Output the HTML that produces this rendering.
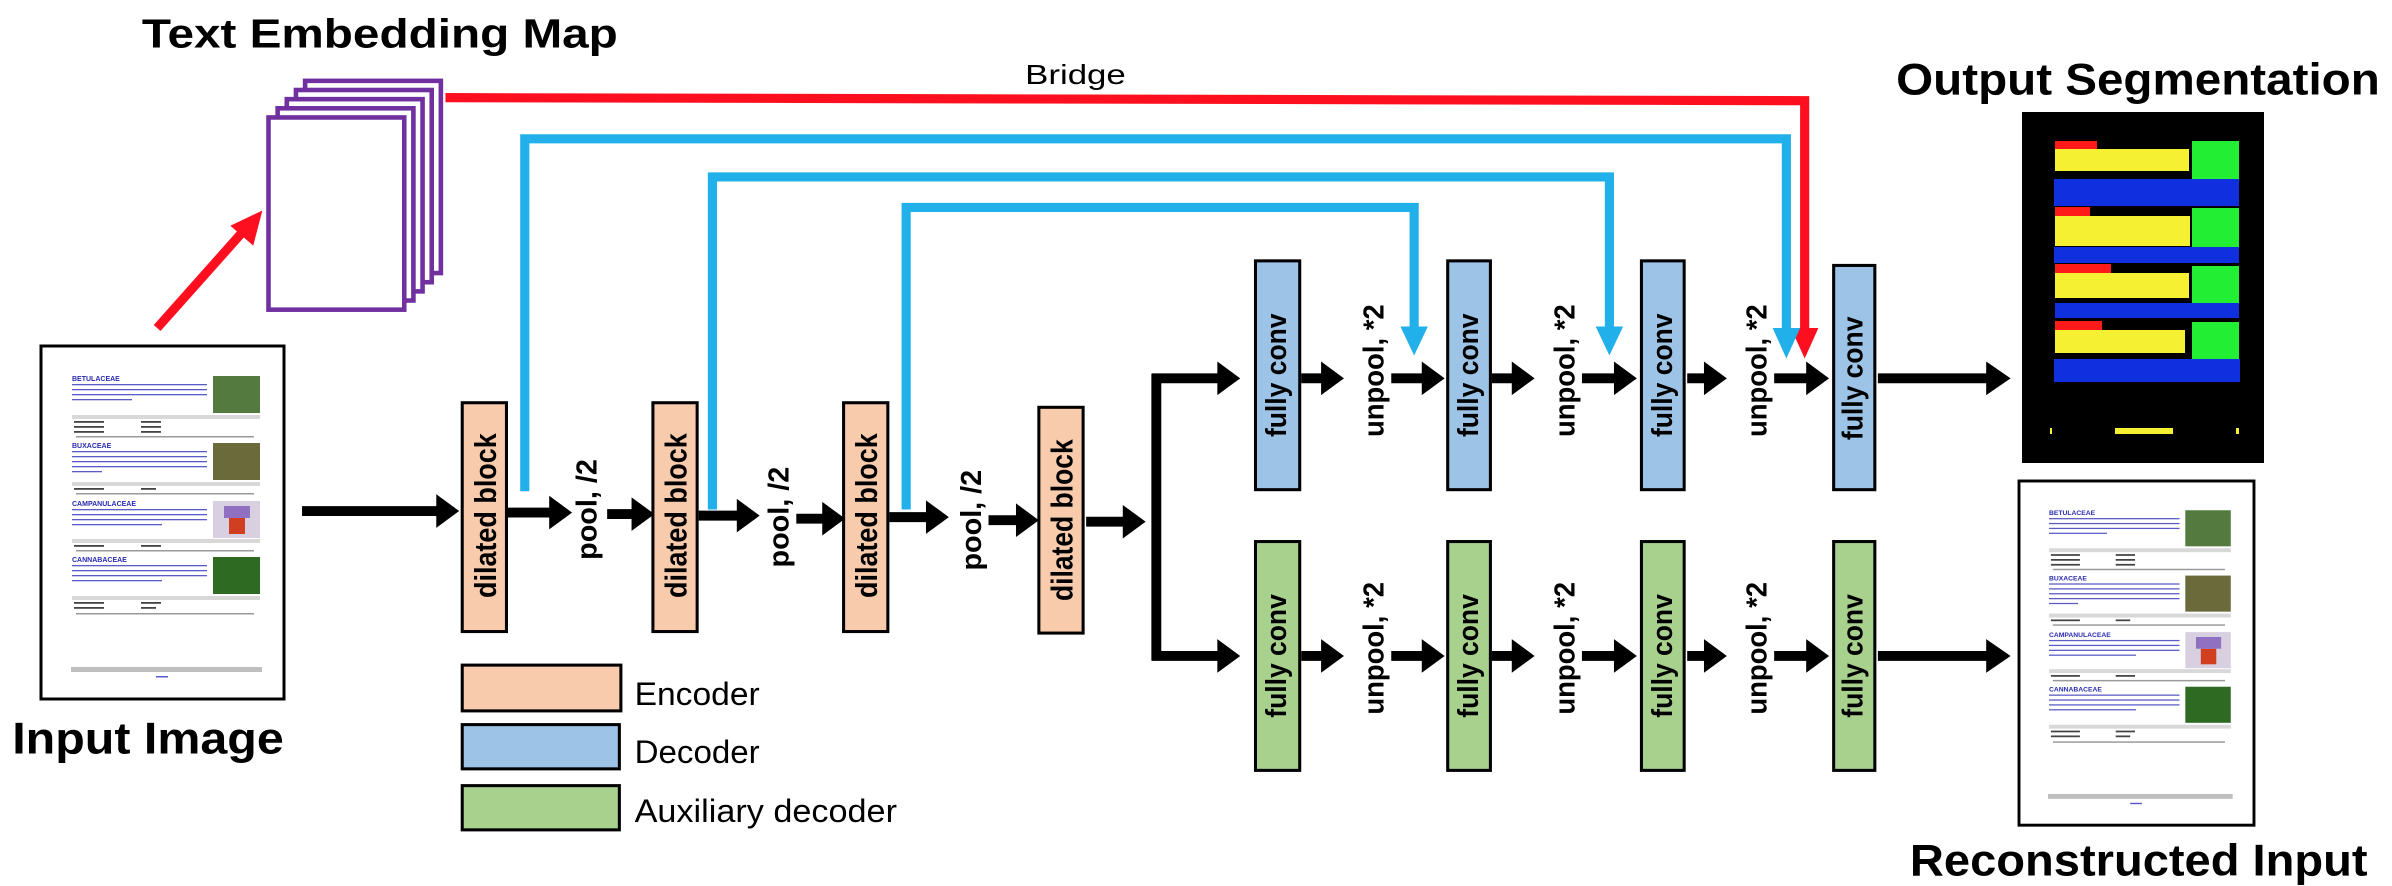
<!DOCTYPE html>
<html><head><meta charset="utf-8"><style>
html,body{margin:0;padding:0;background:#fff;}
svg{display:block;}
text{font-family:"Liberation Sans",sans-serif;}
</style></head><body>
<svg width="2392" height="886" viewBox="0 0 2392 886" xmlns="http://www.w3.org/2000/svg">
<g transform="scale(1.5255)">
  <text x="93" y="31" font-size="27" font-weight="bold" textLength="312" lengthAdjust="spacingAndGlyphs">Text Embedding Map</text>
  <text x="8" y="494" font-size="29" font-weight="bold" textLength="178" lengthAdjust="spacingAndGlyphs">Input Image</text>
  <text x="1243" y="62" font-size="29" font-weight="bold" textLength="317" lengthAdjust="spacingAndGlyphs">Output Segmentation</text>
  <text x="1252" y="574" font-size="29" font-weight="bold" textLength="300" lengthAdjust="spacingAndGlyphs">Reconstructed Input</text>
  <text x="672" y="55" font-size="18" textLength="66" lengthAdjust="spacingAndGlyphs">Bridge</text>

  <g fill="#fff" stroke="#7030a0" stroke-width="3">
    <rect x="200" y="53" width="89" height="126"/>
    <rect x="194" y="59" width="89" height="126"/>
    <rect x="188" y="65" width="89" height="126"/>
    <rect x="182" y="71" width="89" height="126"/>
    <rect x="176" y="77" width="89" height="126"/>
  </g>
  <line x1="103" y1="215" x2="160" y2="151" stroke="#fe0f1f" stroke-width="6"/>
  <polygon points="172,138 166,161 151,148" fill="#fe0f1f"/>

  <polyline points="292,64 1183,66 1183,216" fill="none" stroke="#fe0f1f" stroke-width="6"/>
  <polygon points="1174,215 1192,215 1183,235" fill="#fe0f1f"/>

  <g fill="none" stroke="#22b0ea" stroke-width="6">
    <polyline points="344,322 344,91 1171,91 1171,216"/>
    <polyline points="467,334 467,116 1055,116 1055,216"/>
    <polyline points="594,334 594,136 927,136 927,216"/>
  </g>
  <g fill="#22b0ea">
    <polygon points="1162,215 1180,215 1171,235"/>
    <polygon points="1046,214 1064,214 1055,233"/>
    <polygon points="918,214 936,214 927,233"/>
  </g>

  <g fill="#f8cbad" stroke="#000" stroke-width="2">
    <rect x="303" y="264" width="29" height="150"/>
    <rect x="428" y="264" width="29" height="150"/>
    <rect x="553" y="264" width="29" height="150"/>
    <rect x="681" y="267" width="29" height="148"/>
  </g>
  <g font-size="20" font-weight="bold" text-anchor="middle">
    <text transform="translate(318,338) rotate(-90)" dy="7" textLength="108" lengthAdjust="spacingAndGlyphs">dilated block</text>
    <text transform="translate(443,338) rotate(-90)" dy="7" textLength="108" lengthAdjust="spacingAndGlyphs">dilated block</text>
    <text transform="translate(568,338) rotate(-90)" dy="7" textLength="108" lengthAdjust="spacingAndGlyphs">dilated block</text>
    <text transform="translate(696,341) rotate(-90)" dy="7" textLength="106" lengthAdjust="spacingAndGlyphs">dilated block</text>
  </g>
  <g font-size="19" font-weight="bold" text-anchor="middle">
    <text transform="translate(384,334) rotate(-90)" dy="7" textLength="66" lengthAdjust="spacingAndGlyphs">pool, /2</text>
    <text transform="translate(510,339) rotate(-90)" dy="7" textLength="66" lengthAdjust="spacingAndGlyphs">pool, /2</text>
    <text transform="translate(636,341) rotate(-90)" dy="7" textLength="66" lengthAdjust="spacingAndGlyphs">pool, /2</text>
  </g>

  <g stroke="#000" stroke-width="6.5">
    <line x1="198" y1="335" x2="288" y2="335"/>
    <line x1="333" y1="336" x2="362" y2="336"/>
    <line x1="398" y1="337" x2="416" y2="337"/>
    <line x1="458" y1="338" x2="485" y2="338"/>
    <line x1="522" y1="340" x2="541" y2="340"/>
    <line x1="583" y1="339" x2="609" y2="339"/>
    <line x1="648" y1="341" x2="668" y2="341"/>
    <line x1="712" y1="342" x2="738" y2="342"/>
    <line x1="758" y1="245" x2="758" y2="433"/>
    <line x1="755" y1="248" x2="800" y2="248"/>
    <line x1="755" y1="430" x2="800" y2="430"/>
    <line x1="853" y1="248" x2="868" y2="248"/>
    <line x1="912" y1="248" x2="934" y2="248"/>
    <line x1="978" y1="248" x2="993" y2="248"/>
    <line x1="1037" y1="248" x2="1060" y2="248"/>
    <line x1="1106" y1="248" x2="1119" y2="248"/>
    <line x1="1163" y1="248" x2="1186" y2="248"/>
    <line x1="1231" y1="248" x2="1304" y2="248"/>
    <line x1="853" y1="430" x2="868" y2="430"/>
    <line x1="912" y1="430" x2="934" y2="430"/>
    <line x1="978" y1="430" x2="993" y2="430"/>
    <line x1="1037" y1="430" x2="1060" y2="430"/>
    <line x1="1106" y1="430" x2="1119" y2="430"/>
    <line x1="1163" y1="430" x2="1186" y2="430"/>
    <line x1="1231" y1="430" x2="1304" y2="430"/>
  </g>
  <g fill="#000">
    <polygon points="286,324 301,335 286,346"/>
    <polygon points="360,325 375,336 360,347"/>
    <polygon points="414,326 429,337 414,348"/>
    <polygon points="483,327 498,338 483,349"/>
    <polygon points="539,329 554,340 539,351"/>
    <polygon points="607,328 622,339 607,350"/>
    <polygon points="666,330 681,341 666,352"/>
    <polygon points="736,331 751,342 736,353"/>
    <polygon points="798,237 813,248 798,259"/>
    <polygon points="798,419 813,430 798,441"/>
    <polygon points="866,237 881,248 866,259"/>
    <polygon points="932,237 947,248 932,259"/>
    <polygon points="991,237 1006,248 991,259"/>
    <polygon points="1058,237 1073,248 1058,259"/>
    <polygon points="1117,237 1132,248 1117,259"/>
    <polygon points="1184,237 1199,248 1184,259"/>
    <polygon points="1302,237 1318,248 1302,259"/>
    <polygon points="866,419 881,430 866,441"/>
    <polygon points="932,419 947,430 932,441"/>
    <polygon points="991,419 1006,430 991,441"/>
    <polygon points="1058,419 1073,430 1058,441"/>
    <polygon points="1117,419 1132,430 1117,441"/>
    <polygon points="1184,419 1199,430 1184,441"/>
    <polygon points="1302,419 1318,430 1302,441"/>
  </g>

  <g fill="#9dc3e6" stroke="#000" stroke-width="2">
    <rect x="823" y="171" width="29" height="150"/>
    <rect x="949" y="171" width="28" height="150"/>
    <rect x="1076" y="171" width="28" height="150"/>
    <rect x="1202" y="174" width="27" height="147"/>
  </g>
  <g fill="#a9d18e" stroke="#000" stroke-width="2">
    <rect x="823" y="355" width="29" height="150"/>
    <rect x="949" y="355" width="28" height="150"/>
    <rect x="1076" y="355" width="28" height="150"/>
    <rect x="1202" y="355" width="27" height="150"/>
  </g>
  <g font-size="19" font-weight="bold" text-anchor="middle">
    <text transform="translate(837,246) rotate(-90)" dy="6" textLength="81" lengthAdjust="spacingAndGlyphs">fully conv</text>
    <text transform="translate(963,246) rotate(-90)" dy="6" textLength="81" lengthAdjust="spacingAndGlyphs">fully conv</text>
    <text transform="translate(1090,246) rotate(-90)" dy="6" textLength="81" lengthAdjust="spacingAndGlyphs">fully conv</text>
    <text transform="translate(1215,248) rotate(-90)" dy="6" textLength="81" lengthAdjust="spacingAndGlyphs">fully conv</text>
    <text transform="translate(837,430) rotate(-90)" dy="6" textLength="81" lengthAdjust="spacingAndGlyphs">fully conv</text>
    <text transform="translate(963,430) rotate(-90)" dy="6" textLength="81" lengthAdjust="spacingAndGlyphs">fully conv</text>
    <text transform="translate(1090,430) rotate(-90)" dy="6" textLength="81" lengthAdjust="spacingAndGlyphs">fully conv</text>
    <text transform="translate(1215,430) rotate(-90)" dy="6" textLength="81" lengthAdjust="spacingAndGlyphs">fully conv</text>
    <text transform="translate(901,243) rotate(-90)" dy="6" textLength="87" lengthAdjust="spacingAndGlyphs">unpool, *2</text>
    <text transform="translate(1026,243) rotate(-90)" dy="6" textLength="87" lengthAdjust="spacingAndGlyphs">unpool, *2</text>
    <text transform="translate(1152,243) rotate(-90)" dy="6" textLength="87" lengthAdjust="spacingAndGlyphs">unpool, *2</text>
    <text transform="translate(901,425) rotate(-90)" dy="6" textLength="87" lengthAdjust="spacingAndGlyphs">unpool, *2</text>
    <text transform="translate(1026,425) rotate(-90)" dy="6" textLength="87" lengthAdjust="spacingAndGlyphs">unpool, *2</text>
    <text transform="translate(1152,425) rotate(-90)" dy="6" textLength="87" lengthAdjust="spacingAndGlyphs">unpool, *2</text>
  </g>

  <rect x="303" y="436" width="104" height="30" fill="#f8cbad" stroke="#000" stroke-width="2"/>
  <rect x="303" y="475" width="103" height="29" fill="#9dc3e6" stroke="#000" stroke-width="2"/>
  <rect x="303" y="515" width="103" height="29" fill="#a9d18e" stroke="#000" stroke-width="2"/>
  <g font-size="21">
    <text x="416" y="462" textLength="82" lengthAdjust="spacingAndGlyphs">Encoder</text>
    <text x="416" y="500" textLength="82" lengthAdjust="spacingAndGlyphs">Decoder</text>
    <text x="416" y="539" textLength="172" lengthAdjust="spacingAndGlyphs">Auxiliary decoder</text>
  </g>
</g>

<rect x="2022" y="112" width="242" height="351" fill="#000"/>
<g>
  <rect x="2055" y="141" width="42" height="9" fill="#ff1a1a"/>
  <rect x="2055" y="149" width="134" height="22" fill="#f5f032"/>
  <rect x="2192" y="141" width="47" height="38" fill="#22ee33"/>
  <rect x="2054" y="179" width="185" height="27" fill="#1030e0"/>
  <rect x="2055" y="207" width="35" height="9" fill="#ff1a1a"/>
  <rect x="2055" y="216" width="135" height="30" fill="#f5f032"/>
  <rect x="2192" y="208" width="47" height="39" fill="#22ee33"/>
  <rect x="2054" y="247" width="185" height="16" fill="#1030e0"/>
  <rect x="2055" y="264" width="56" height="9" fill="#ff1a1a"/>
  <rect x="2055" y="273" width="134" height="25" fill="#f5f032"/>
  <rect x="2192" y="266" width="47" height="38" fill="#22ee33"/>
  <rect x="2055" y="303" width="184" height="15" fill="#1030e0"/>
  <rect x="2055" y="321" width="47" height="9" fill="#ff1a1a"/>
  <rect x="2055" y="330" width="130" height="23" fill="#f5f032"/>
  <rect x="2192" y="322" width="47" height="37" fill="#22ee33"/>
  <rect x="2054" y="359" width="186" height="23" fill="#1030e0"/>
  <rect x="2115" y="428" width="58" height="6" fill="#f5f032"/>
  <rect x="2050" y="428" width="2" height="6" fill="#f5f032"/>
  <rect x="2236" y="428" width="3" height="6" fill="#f5f032"/>
</g>

<g transform="translate(41,346)">
  <rect x="0" y="0" width="243" height="353" fill="#fff" stroke="#000" stroke-width="3"/>
  <g font-family="Liberation Serif,serif" font-size="7" font-weight="bold" fill="#2a2ab0">
    <text x="31" y="35">BETULACEAE</text>
    <text x="31" y="102">BUXACEAE</text>
    <text x="31" y="160">CAMPANULACEAE</text>
    <text x="31" y="216">CANNABACEAE</text>
  </g>
  <g fill="#5a5ac8">
    <rect x="31" y="38" width="135" height="1.3"/><rect x="31" y="43" width="135" height="1.3"/><rect x="31" y="48" width="135" height="1.3"/><rect x="31" y="53" width="60" height="1.3"/>
    <rect x="31" y="105" width="135" height="1.3"/><rect x="31" y="110" width="135" height="1.3"/><rect x="31" y="115" width="135" height="1.3"/><rect x="31" y="120" width="135" height="1.3"/><rect x="31" y="125" width="30" height="1.3"/>
    <rect x="31" y="163" width="135" height="1.3"/><rect x="31" y="168" width="135" height="1.3"/><rect x="31" y="173" width="135" height="1.3"/><rect x="31" y="178" width="90" height="1.3"/>
    <rect x="31" y="219" width="135" height="1.3"/><rect x="31" y="224" width="135" height="1.3"/><rect x="31" y="229" width="135" height="1.3"/><rect x="31" y="234" width="90" height="1.3"/>
  </g>
  <rect x="172" y="30" width="47" height="37" fill="#557a40"/>
  <rect x="172" y="97" width="47" height="37" fill="#6a6a3a"/>
  <rect x="172" y="155" width="47" height="37" fill="#d8d0e0"/>
  <rect x="188" y="172" width="16" height="16" fill="#d04020"/>
  <rect x="183" y="160" width="26" height="12" fill="#9070c0"/>
  <rect x="172" y="211" width="47" height="37" fill="#2e6a22"/>
  <g fill="#d8d8d8">
    <rect x="31" y="69" width="188" height="4"/><rect x="31" y="136" width="188" height="4"/><rect x="31" y="193" width="188" height="4"/><rect x="31" y="250" width="188" height="4"/>
  </g>
  <g fill="#444">
    <rect x="33" y="75" width="30" height="1.8"/><rect x="33" y="80" width="30" height="1.8"/><rect x="33" y="85" width="30" height="1.8"/>
    <rect x="100" y="75" width="20" height="1.8"/><rect x="100" y="80" width="20" height="1.8"/><rect x="100" y="85" width="20" height="1.8"/>
    <rect x="33" y="142" width="30" height="1.8"/><rect x="100" y="142" width="15" height="1.8"/>
    <rect x="33" y="199" width="30" height="1.8"/><rect x="100" y="199" width="20" height="1.8"/>
    <rect x="33" y="256" width="30" height="1.8"/><rect x="33" y="261" width="30" height="1.8"/><rect x="100" y="256" width="20" height="1.8"/><rect x="100" y="261" width="15" height="1.8"/>
  </g>
  <g fill="#999">
    <rect x="35" y="90" width="178" height="1.5"/><rect x="35" y="147" width="178" height="1.5"/><rect x="35" y="204" width="178" height="1.5"/><rect x="35" y="267" width="178" height="1.5"/>
  </g>
  <rect x="30" y="321" width="191" height="5" fill="#bfbfbf"/>
  <rect x="115" y="330" width="12" height="1.5" fill="#5a5ac8"/>
</g>

<g transform="translate(2019,481) scale(0.967,0.975)">
  <rect x="0" y="0" width="243" height="353" fill="#fff" stroke="#000" stroke-width="3"/>
  <g font-family="Liberation Serif,serif" font-size="7" font-weight="bold" fill="#2a2ab0">
    <text x="31" y="35">BETULACEAE</text>
    <text x="31" y="102">BUXACEAE</text>
    <text x="31" y="160">CAMPANULACEAE</text>
    <text x="31" y="216">CANNABACEAE</text>
  </g>
  <g fill="#5a5ac8">
    <rect x="31" y="38" width="135" height="1.3"/><rect x="31" y="43" width="135" height="1.3"/><rect x="31" y="48" width="135" height="1.3"/><rect x="31" y="53" width="60" height="1.3"/>
    <rect x="31" y="105" width="135" height="1.3"/><rect x="31" y="110" width="135" height="1.3"/><rect x="31" y="115" width="135" height="1.3"/><rect x="31" y="120" width="135" height="1.3"/><rect x="31" y="125" width="30" height="1.3"/>
    <rect x="31" y="163" width="135" height="1.3"/><rect x="31" y="168" width="135" height="1.3"/><rect x="31" y="173" width="135" height="1.3"/><rect x="31" y="178" width="90" height="1.3"/>
    <rect x="31" y="219" width="135" height="1.3"/><rect x="31" y="224" width="135" height="1.3"/><rect x="31" y="229" width="135" height="1.3"/><rect x="31" y="234" width="90" height="1.3"/>
  </g>
  <rect x="172" y="30" width="47" height="37" fill="#557a40"/>
  <rect x="172" y="97" width="47" height="37" fill="#6a6a3a"/>
  <rect x="172" y="155" width="47" height="37" fill="#d8d0e0"/>
  <rect x="188" y="172" width="16" height="16" fill="#d04020"/>
  <rect x="183" y="160" width="26" height="12" fill="#9070c0"/>
  <rect x="172" y="211" width="47" height="37" fill="#2e6a22"/>
  <g fill="#d8d8d8">
    <rect x="31" y="69" width="188" height="4"/><rect x="31" y="136" width="188" height="4"/><rect x="31" y="193" width="188" height="4"/><rect x="31" y="250" width="188" height="4"/>
  </g>
  <g fill="#444">
    <rect x="33" y="75" width="30" height="1.8"/><rect x="33" y="80" width="30" height="1.8"/><rect x="33" y="85" width="30" height="1.8"/>
    <rect x="100" y="75" width="20" height="1.8"/><rect x="100" y="80" width="20" height="1.8"/><rect x="100" y="85" width="20" height="1.8"/>
    <rect x="33" y="142" width="30" height="1.8"/><rect x="100" y="142" width="15" height="1.8"/>
    <rect x="33" y="199" width="30" height="1.8"/><rect x="100" y="199" width="20" height="1.8"/>
    <rect x="33" y="256" width="30" height="1.8"/><rect x="33" y="261" width="30" height="1.8"/><rect x="100" y="256" width="20" height="1.8"/><rect x="100" y="261" width="15" height="1.8"/>
  </g>
  <g fill="#999">
    <rect x="35" y="90" width="178" height="1.5"/><rect x="35" y="147" width="178" height="1.5"/><rect x="35" y="204" width="178" height="1.5"/><rect x="35" y="267" width="178" height="1.5"/>
  </g>
  <rect x="30" y="321" width="191" height="5" fill="#bfbfbf"/>
  <rect x="115" y="330" width="12" height="1.5" fill="#5a5ac8"/>
</g>
</svg>
</body></html>
